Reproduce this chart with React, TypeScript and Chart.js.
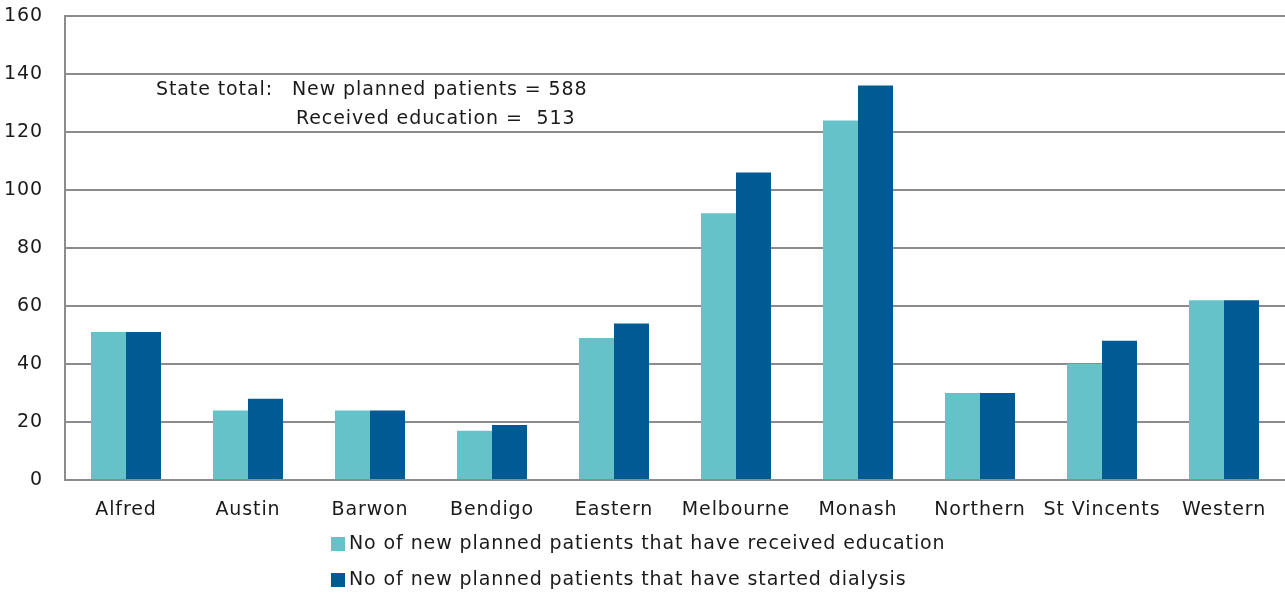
import React, { useEffect, useRef } from "react";
import { Chart, registerables } from "chart.js";

Chart.register(...registerables);

const categories = ["Alfred", "Austin", "Barwon", "Bendigo", "Eastern", "Melbourne", "Monash", "Northern", "St Vincents", "Western"];
const receivedEducation = [51, 24, 24, 17, 49, 92, 124, 30, 40, 62];
const startedDialysis = [51, 28, 24, 19, 54, 106, 136, 30, 48, 62];
const seriesLabels = [
  "No of new planned patients that have received education",
  "No of new planned patients that have started dialysis",
];
const seriesColors = ["#66C2C9", "#005A93"];
const annotationLines = ["State total:", "New planned patients = 588", "Received education =  513"];

const FONT = "'DejaVu Sans', sans-serif";
const FONT_SIZE = 19;
const GRID = "#8c8c8c";
const SPACING = "0.9px";

export default function App() {
  const ref = useRef<HTMLCanvasElement>(null);
  useEffect(() => {
    document.body.style.margin = "0";
    const canvas = ref.current!;
    const ctx0 = canvas.getContext("2d") as any;
    ctx0.letterSpacing = SPACING;
    const spacing = {
      id: "spacing",
      beforeUpdate(chart: any) { (chart.ctx as any).letterSpacing = SPACING; },
      beforeDraw(chart: any) { (chart.ctx as any).letterSpacing = SPACING; },
    };
    const extras = {
      id: "extras",
      afterDraw(chart: any) {
        const ctx = chart.ctx;
        const y = chart.scales.y;
        const x = chart.scales.x;
        ctx.save();
        ctx.letterSpacing = SPACING;
        ctx.fillStyle = "#1a1a1a";
        ctx.font = `${FONT_SIZE}px ${FONT}`;
        ctx.textBaseline = "middle";
        ctx.textAlign = "left";
        const l1 = y.getPixelForValue(134.5);
        const l2 = y.getPixelForValue(124.5);
        ctx.fillText(annotationLines[0], x.left + 91, l1);
        ctx.fillText(annotationLines[1], x.left + 227, l1);
        ctx.fillText(annotationLines[2], x.left + 231, l2);
        // legend
        const lx = 331;
        const rows = [544, 580];
        rows.forEach((ry, i) => {
          ctx.fillStyle = seriesColors[i];
          ctx.fillRect(lx, ry - 7, 14, 14);
          ctx.fillStyle = "#1a1a1a";
          ctx.fillText(seriesLabels[i], lx + 18, ry);
        });
        ctx.restore();
      },
    };
    const chart = new Chart(canvas, {
      type: "bar",
      data: {
        labels: categories,
        datasets: [
          { label: seriesLabels[0], data: receivedEducation, backgroundColor: seriesColors[0] },
          { label: seriesLabels[1], data: startedDialysis, backgroundColor: seriesColors[1] },
        ],
      },
      options: {
        animation: false,
        responsive: false,
        maintainAspectRatio: false,
        layout: { padding: { top: 0, right: 0, left: 0, bottom: 0 } },
        plugins: { legend: { display: false }, tooltip: { enabled: false } },
        datasets: { bar: { categoryPercentage: 0.574, barPercentage: 1 } },
        scales: {
          x: {
            grid: { display: false },
            border: { display: false },
            ticks: { color: "#1a1a1a", font: { family: FONT, size: FONT_SIZE }, padding: 11, maxRotation: 0 },
            afterFit(s: any) { s.height = 114; s.paddingLeft = 0; s.paddingRight = 0; },
          },
          y: {
            min: 0,
            max: 160,
            ticks: { stepSize: 20, color: "#1a1a1a", font: { family: FONT, size: FONT_SIZE }, padding: 22 },
            grid: { color: GRID, lineWidth: 2, drawTicks: false },
            border: { display: true, color: GRID, width: 2 },
            afterFit(s: any) { s.width = 65; s.paddingTop = 16; s.paddingBottom = 0; },
          },
        },
      },
      plugins: [spacing, extras],
    });
    return () => chart.destroy();
  }, []);
  return <canvas ref={ref} width={1285} height={594} style={{ display: "block" }} />;
}
